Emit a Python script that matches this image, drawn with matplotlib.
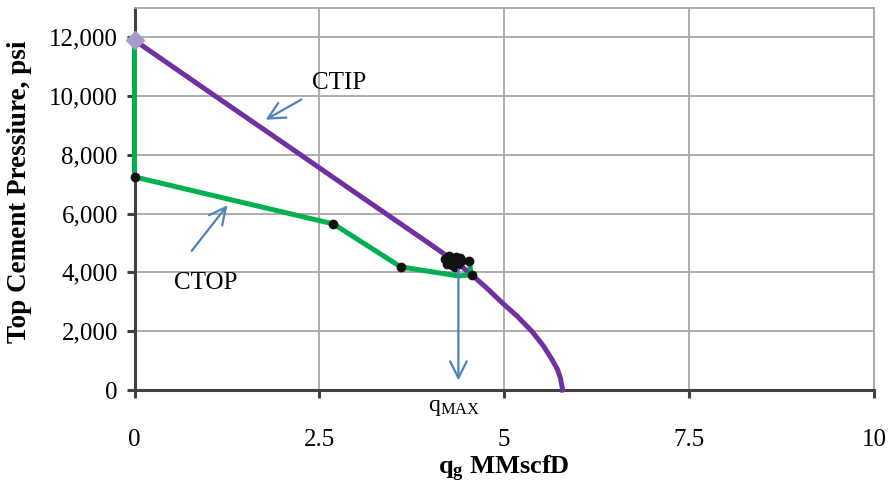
import matplotlib
matplotlib.use('Agg')
import matplotlib.pyplot as plt

plt.rcParams['font.family'] = ['Liberation Serif', 'DejaVu Serif']
plt.rcParams['mathtext.fontset'] = 'custom'
plt.rcParams['mathtext.rm'] = 'Liberation Serif'
plt.rcParams['mathtext.it'] = 'Liberation Serif:italic'
plt.rcParams['mathtext.bf'] = 'Liberation Serif:bold'

# CTIP curve (top cement inflow pressure vs gas rate)
ctip_q = [0.0, 1.0, 2.0, 3.0, 4.0, 4.4, 4.56, 4.75, 4.98, 5.18, 5.38, 5.53, 5.65, 5.72, 5.76, 5.79]
ctip_p = [11900, 10160, 8430, 6690, 4960, 4250, 3920, 3500, 2950, 2500, 1980, 1500, 1020, 700, 400, 0]

# CTOP curve (top cement outflow pressure)
ctop_q = [0.0, 0.0, 2.69, 3.60, 4.38, 4.55, 4.53, 4.40]
ctop_p = [11900, 7250, 5650, 4190, 3880, 3920, 4400, 4450]

# solution points along CTOP / iteration cluster near the intersection
pts_q = [0.0, 2.69, 3.60, 4.20, 4.25, 4.30, 4.35, 4.40, 4.22, 4.30, 4.38, 4.42, 4.28, 4.33, 4.53, 4.56]
pts_p = [7250, 5650, 4190, 4450, 4550, 4500, 4520, 4480, 4300, 4250, 4300, 4400, 4380, 4200, 4400, 3910]

q_max = 4.38
x_ticks = [0, 2.5, 5, 7.5, 10]
x_tick_labels = ['0', '2.5', '5', '7.5', '10']
y_ticks = [0, 2000, 4000, 6000, 8000, 10000, 12000]
y_tick_labels = ['0', '2,000', '4,000', '6,000', '8,000', '10,000', '12,000']

fig = plt.figure(figsize=(8.89, 4.86), dpi=100)
ax = fig.add_axes([0.1513, 0.1975, 0.8318, 0.7862])

ax.set_xlim(0, 10)
ax.set_ylim(0, 13000)
ax.set_xticks(x_ticks)
ax.set_xticklabels(x_tick_labels)
ax.set_yticks(y_ticks)
ax.set_yticklabels(y_tick_labels)
ax.grid(True, color='#A6A6A6', linewidth=1.3)
ax.set_axisbelow(True)

for side in ['left', 'bottom']:
    ax.spines[side].set_color('#404040')
    ax.spines[side].set_linewidth(2.2)
for side in ['top', 'right']:
    ax.spines[side].set_color('#A6A6A6')
    ax.spines[side].set_linewidth(1.3)
ax.tick_params(axis='both', direction='out', length=6, width=2.2, color='#404040',
               labelsize=18, pad=6)
ax.tick_params(axis='x', pad=22)

ax.plot(ctip_q, ctip_p, color='#7030A0', linewidth=3.6, zorder=3, clip_on=False,
        solid_joinstyle='round')
ax.plot(ctop_q, ctop_p, color='#00B050', linewidth=3.6, zorder=4, clip_on=False)
ax.plot(pts_q, pts_p, 'o', color='#111111', markersize=6, zorder=5, clip_on=False)
ax.plot([0], [11900], 'D', color='#A89BC6', markersize=9, zorder=6, clip_on=False)

arrow = dict(arrowstyle='->', color='#4F81BD', lw=1.6, mutation_scale=30)
ax.annotate('', xy=(1.74, 9150), xytext=(2.29, 9930), arrowprops=arrow, zorder=7)
ax.annotate('', xy=(1.28, 6360), xytext=(0.75, 4660), arrowprops=arrow, zorder=7)
ax.annotate('', xy=(q_max, 230), xytext=(q_max, 4200), arrowprops=arrow, zorder=7)

ax.text(2.40, 10440, 'CTIP', fontsize=18, ha='left', va='center')
ax.text(0.96, 3640, 'CTOP', fontsize=18, ha='center', va='center')
ax.text(4.32, -580, r'q$_{\mathrm{MAX}}$', fontsize=17, ha='center', va='center',
        clip_on=False)

ax.set_xlabel(r'$\mathbf{q_g}$ MMscfD', fontsize=19, fontweight='bold')
ax.set_ylabel('Top Cement Pressiure, psi', fontsize=19.5, fontweight='bold')
ax.xaxis.set_label_coords(0.5, -0.168)
ax.yaxis.set_label_coords(-0.138, 0.518)

fig.savefig('out.png', dpi=100)
